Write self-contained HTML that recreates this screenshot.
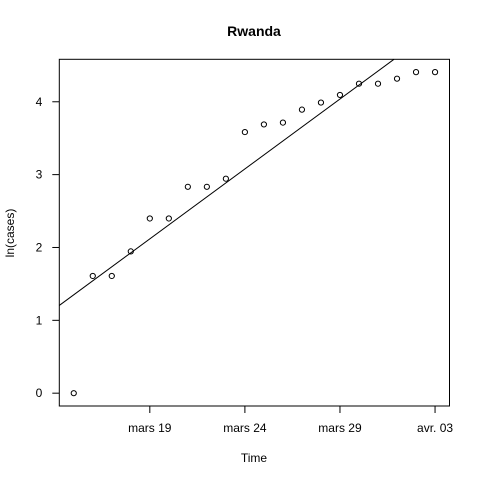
<!DOCTYPE html>
<html><head><meta charset="utf-8"><style>
html,body{margin:0;padding:0;background:#fff}
svg{display:block;font-family:"Liberation Sans",Arial,sans-serif}
</style></head><body>
<svg id="chart" width="480" height="480" viewBox="0 0 480 480" xmlns="http://www.w3.org/2000/svg">
<rect width="480" height="480" fill="#fff"/>
<text x="254" y="36" text-anchor="middle" font-size="14" font-weight="bold">Rwanda</text>
<text x="254" y="462" text-anchor="middle" font-size="12">Time</text>
<text transform="translate(14,233) rotate(-90)" text-anchor="middle" font-size="12">ln(cases)</text>
<g id="axes"></g>
<g id="marks"></g>
<rect x="59.3" y="59.3" width="390.2" height="346.7" fill="none" stroke="#000" stroke-width="1"/>
</svg>
<script>
// days since mars 15
const days = [0,1,2,3,4,5,6,7,8,9,10,11,12,13,14,15,16,17,18,19];
const lnCases = [0,1.609,1.609,1.946,2.398,2.398,2.833,2.833,2.944,3.584,3.689,3.714,3.892,3.989,4.094,4.248,4.248,4.317,4.407,4.407];
const xTickDays = [4,9,14,19];
const xTickLabels = ["mars 19","mars 24","mars 29","avr. 03"];
const yTicks = [0,1,2,3,4];
const fitIntercept = [1.35];
const fitSlope = [0.192];

const L=59.3,R=449.5,T=59.3,B=406;
const xmin=-0.76,xmax=19.76,ymin=-0.176,ymax=4.583;
const sx=d=>L+(d-xmin)/(xmax-xmin)*(R-L);
const sy=v=>B-(v-ymin)/(ymax-ymin)*(B-T);
const NS="http://www.w3.org/2000/svg";
const axes=document.getElementById('axes'),marks=document.getElementById('marks');
function mk(tag,attrs,parent){const e=document.createElementNS(NS,tag);for(const k in attrs)e.setAttribute(k,attrs[k]);parent.appendChild(e);return e;}

xTickDays.forEach((d,i)=>{
  const x=sx(d);
  const t=mk('line',{x1:x,x2:x,y1:B,y2:B+7,stroke:'#000'},axes);
  
  
  const l=mk('text',{x:x,y:B+26,'text-anchor':'middle','font-size':12},axes);
  l.textContent=xTickLabels[i];
  
  
});
yTicks.forEach(v=>{
  const y=sy(v);
  const t=mk('line',{x1:L-7,x2:L,y1:y,y2:y,stroke:'#000'},axes);
  
  
  const l=mk('text',{x:L-17,y:y+4,'text-anchor':'end','font-size':12},axes);
  l.textContent=v;
  
  
});

// regression line clipped to the plot box
const a=fitIntercept[0],b=fitSlope[0];
let d0=xmin,v0=a+b*d0,d1=xmax,v1=a+b*d1;
if(v1>ymax){d1=(ymax-a)/b;v1=ymax;}
if(v0<ymin){d0=(ymin-a)/b;v0=ymin;}
const fl=mk('line',{x1:sx(d0),y1:sy(v0),x2:sx(d1),y2:sy(v1),stroke:'#000','stroke-width':1},marks);



days.forEach((d,i)=>{
  const c=mk('circle',{cx:sx(d),cy:sy(lnCases[i]),r:2.6,fill:'none',stroke:'#000','stroke-width':1},marks);
  
  
});
</script>
</body></html>
